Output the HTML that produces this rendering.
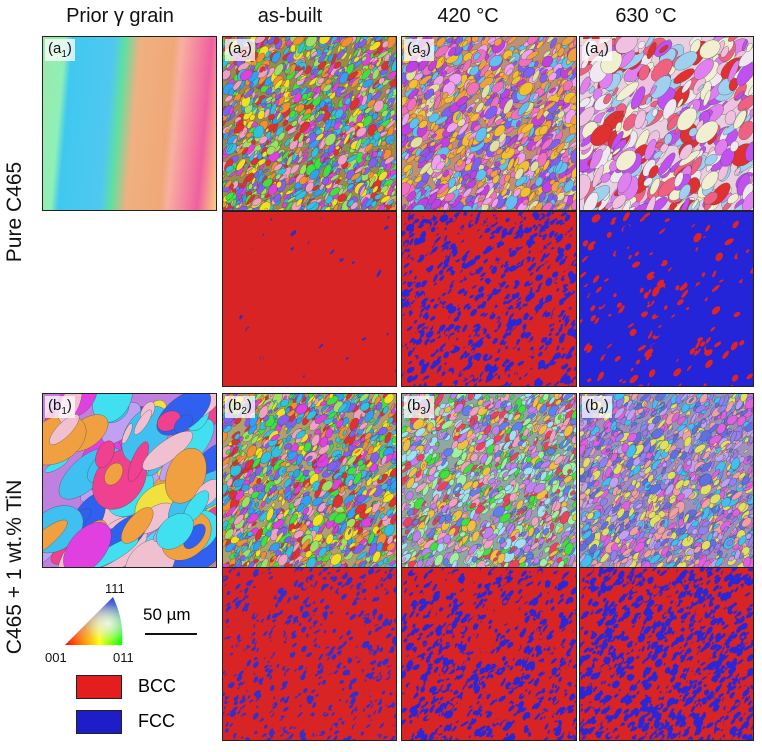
<!DOCTYPE html>
<html><head><meta charset="utf-8"><style>
body{margin:0;width:762px;height:752px;background:#fff;position:relative;overflow:hidden;font-family:"Liberation Sans",sans-serif}
.h{position:absolute;top:5px;font-size:20px;color:#111;text-align:center;width:180px}
.p{position:absolute;border:1.5px solid #222;box-sizing:border-box;overflow:hidden}
.p svg{display:block}
.lab{position:absolute;left:2px;top:2px;background:rgba(255,255,255,0.75);font-size:15px;padding:1px 3px;color:#111}
.lab sub{font-size:10px}
.rl{position:absolute;font-size:21px;color:#111;transform:rotate(-90deg);transform-origin:center;white-space:nowrap;text-align:center}
</style></head><body>
<div class="h" style="left:30px">Prior γ grain</div>
<div class="h" style="left:200px">as-built</div>
<div class="h" style="left:378px">420 °C</div>
<div class="h" style="left:556px">630 °C</div>
<div class="rl" style="left:-60px;top:200px;width:150px">Pure C465</div>
<div class="rl" style="left:-85px;top:555px;width:200px">C465 + 1 wt.% TiN</div>

<div id="panels"></div>

<svg style="position:absolute;left:40px;top:575px" width="110" height="95">
<defs>
<linearGradient id="g1" x1="0" y1="0" x2="1" y2="0"><stop offset="0" stop-color="#f00"/><stop offset="0.6" stop-color="#ff0"/><stop offset="1" stop-color="#0f0"/></linearGradient>
<linearGradient id="g2" x1="0" y1="1" x2="0" y2="0"><stop offset="0" stop-color="#fff" stop-opacity="0"/><stop offset="1" stop-color="#33f" stop-opacity="1"/></linearGradient>
<radialGradient id="g3" cx="0.75" cy="0.55" r="0.4"><stop offset="0" stop-color="#fff" stop-opacity="0.8"/><stop offset="1" stop-color="#fff" stop-opacity="0"/></radialGradient>
</defs>
<path d="M25 70 L82 70 Q84 45 73 22 Z" fill="url(#g1)"/>
<path d="M25 70 L82 70 Q84 45 73 22 Z" fill="url(#g2)"/>
<path d="M25 70 L82 70 Q84 45 73 22 Z" fill="url(#g3)"/>
<text x="65" y="18" font-size="13" fill="#111">111</text>
<text x="5" y="87" font-size="13" fill="#111">001</text>
<text x="73" y="87" font-size="13" fill="#111">011</text>
</svg>
<div style="position:absolute;left:143px;top:605px;font-size:17px">50 µm</div>
<div style="position:absolute;left:145px;top:633px;width:52px;height:2px;background:#111"></div>
<div style="position:absolute;left:76px;top:675px;width:46px;height:24px;background:#e41e1e;border:1.5px solid #222;box-sizing:border-box"></div>
<div style="position:absolute;left:138px;top:676px;font-size:18px">BCC</div>
<div style="position:absolute;left:76px;top:710px;width:46px;height:24px;background:#1e1ec8;border:1.5px solid #222;box-sizing:border-box"></div>
<div style="position:absolute;left:138px;top:711px;font-size:18px">FCC</div>

<script>
let seed=7;function rnd(){seed=(seed*16807)%2147483647;return seed/2147483647;}
const NS='http://www.w3.org/2000/svg';
const ipf=['#e03030','#f0e020','#30c0e0','#e040e0','#40e040','#f09030','#8060f0','#f0a0c0','#30a0f0','#a0e060'];
function panel(name,x,y,w,h,type,opts,label){
  const d=document.createElement('div');d.className='p';
  
  
  d.style.left=x+'px';d.style.top=y+'px';d.style.width=w+'px';d.style.height=h+'px';
  const s=document.createElementNS(NS,'svg');s.setAttribute('width',w);s.setAttribute('height',h);
  const bg=document.createElementNS(NS,'rect');bg.setAttribute('width',w);bg.setAttribute('height',h);
  bg.setAttribute('fill',type==='phase'?opts.base:opts.bg);s.appendChild(bg);
  const n=opts.n||700;
  for(let i=0;i<n;i++){
    const e=document.createElementNS(NS,'ellipse');
    const cx=rnd()*w,cy=rnd()*h;
    e.setAttribute('cx',cx);e.setAttribute('cy',cy);
    const rx=(opts.size||6)*(0.4+rnd()),ry=rx*(0.25+rnd()*0.5);
    e.setAttribute('rx',rx);e.setAttribute('ry',ry);
    e.setAttribute('transform','rotate('+(-70+rnd()*40)+' '+cx+' '+cy+')');
    let c;
    if(type==='phase'){c=rnd()<opts.frac?opts.other:opts.base;}
    else c=(opts.pal||ipf)[Math.floor(rnd()*(opts.pal||ipf).length)];
    e.setAttribute('fill',c);
    if(type!=='phase'){e.setAttribute('stroke','#444');e.setAttribute('stroke-width','0.3');}
    s.appendChild(e);
  }
  d.appendChild(s);
  if(label){const l=document.createElement('div');l.className='lab';l.innerHTML=label;
    
    
    d.appendChild(l);}
  document.getElementById('panels').appendChild(d);
}
(function(){
  const d=document.createElement('div');d.className='p';
  
  
  d.style.cssText='left:42px;top:36px;width:175px;height:175px;background:linear-gradient(95deg,#9ee8a8 0%,#8ef0b8 12%,#40c8f0 16%,#50c8f0 38%,#60e0a0 44%,#f0b080 52%,#f0a878 70%,#f8b0a0 74%,#f060a0 90%,#f8d080 100%)';
  d.innerHTML='<div class="lab">(a<sub>1</sub>)</div>';
  document.getElementById('panels').appendChild(d);
})();
panel('panel-b1-prior-grain',42,393,175,175,'ipf',{bg:'#c080e0',n:90,size:24,pal:['#f04090','#40e0f0','#f0a040','#3060f0','#c0a0f0','#f0c0d0','#40c0f0','#e040e0','#f0e040']},'(b<sub>1</sub>)');
panel('panel-a2-ebsd',222,36,175,175,'ipf',{bg:'#9a8a50',n:1500,size:5},'(a<sub>2</sub>)');
panel('panel-a3-ebsd',401,36,176,175,'ipf',{bg:'#c09070',n:1300,size:6,pal:['#f0c030','#f070c0','#c040e0','#f0a040','#60c0f0','#e0e0a0','#f0a0f0','#8060f0']},'(a<sub>3</sub>)');
panel('panel-a4-ebsd',579,36,175,175,'ipf',{bg:'#e8d0e0',n:500,size:10,pal:['#f0e8f0','#e080f0','#c050f0','#f0f0d0','#a0d0f0','#f06080','#e03030','#f0c0e0']},'(a<sub>4</sub>)');
panel('panel-a2-phase',222,211,175,176,'phase',{base:'#d82424',other:'#3030c0',frac:0.04,n:500,size:3});
panel('panel-a3-phase',401,211,176,176,'phase',{base:'#d82424',other:'#2828d8',frac:0.45,n:1600,size:3.5});
panel('panel-a4-phase',579,211,175,176,'phase',{base:'#2424d8',other:'#e02424',frac:0.35,n:400,size:4});
panel('panel-b2-ebsd',222,393,175,175,'ipf',{bg:'#b0a070',n:1500,size:5},'(b<sub>2</sub>)');
panel('panel-b3-ebsd',401,393,176,175,'ipf',{bg:'#90a8a0',n:1500,size:5,pal:['#f0a0c0','#a0e0f0','#40e040','#c080f0','#f0c040','#f04060','#6080f0','#a0f0a0']},'(b<sub>3</sub>)');
panel('panel-b4-ebsd',579,393,175,175,'ipf',{bg:'#a090c0',n:1500,size:5,pal:['#6070e0','#c0a0f0','#e060e0','#40c0f0','#f0a0a0','#e0e060','#9080f0']},'(b<sub>4</sub>)');
panel('panel-b2-phase',222,567,175,174,'phase',{base:'#d82424',other:'#3030d0',frac:0.3,n:1600,size:3});
panel('panel-b3-phase',401,567,176,174,'phase',{base:'#d82424',other:'#2828d8',frac:0.4,n:1700,size:3.5});
panel('panel-b4-phase',579,567,175,174,'phase',{base:'#d82424',other:'#2828d8',frac:0.55,n:1700,size:3.5});
</script>
</body></html>
